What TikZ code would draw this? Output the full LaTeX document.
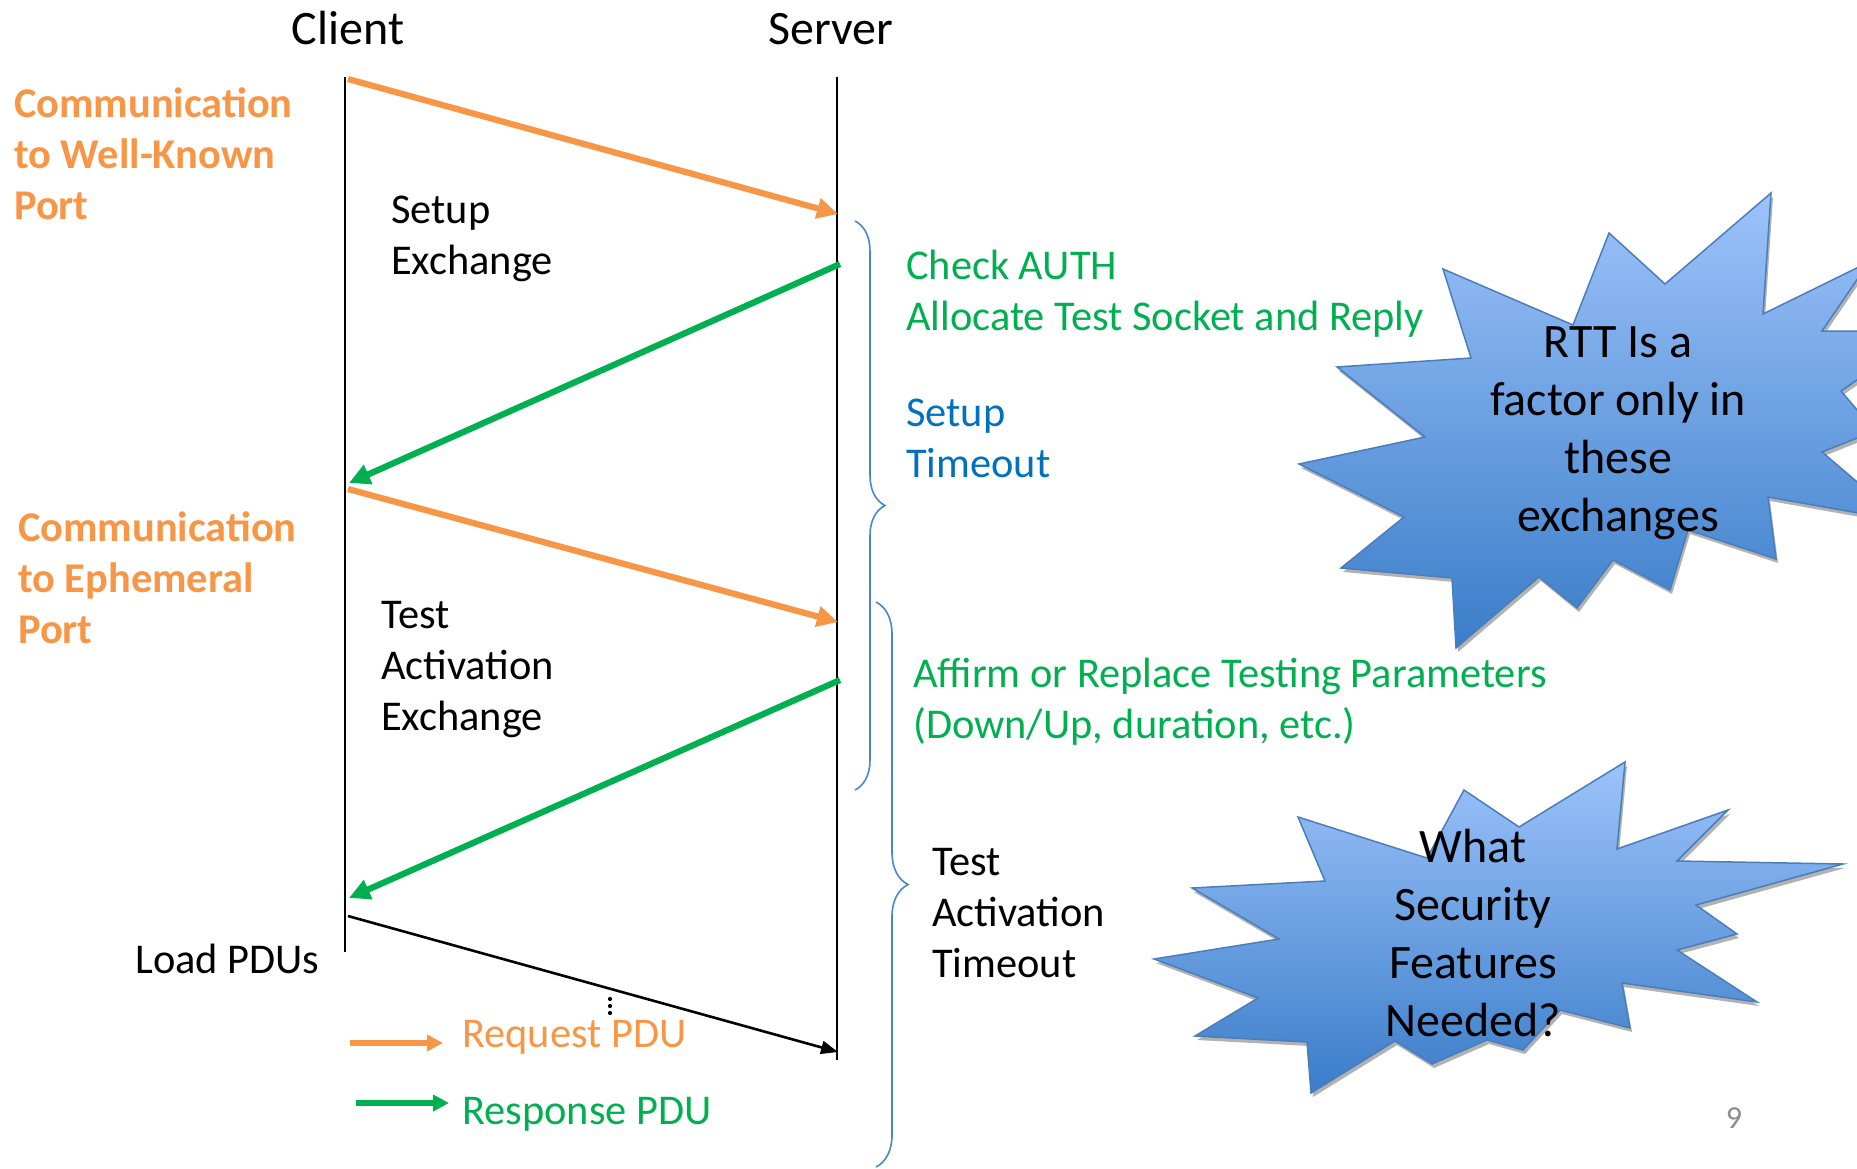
\documentclass[tikz,border=0pt]{standalone}
\usepackage{fontspec}
\setmainfont{Carlito}
\usetikzlibrary{arrows.meta,decorations.pathreplacing,shadows}

\definecolor{reqorange}{HTML}{F79646}
\definecolor{resgreen}{HTML}{00B050}
\definecolor{toblue}{HTML}{0070C0}
\definecolor{bracecol}{HTML}{4A86CF}
\definecolor{startop}{RGB}{157,195,250}
\definecolor{starbot}{RGB}{58,125,201}
\definecolor{staredge}{HTML}{4A7EBB}
\definecolor{pagegray}{HTML}{8C8C8C}

% zero-width struts fixing the top of the first line of a text block
\newcommand{\bodystrut}{\rule{0pt}{36pt}}
\newcommand{\burststrut}{\rule{0pt}{40pt}}

\begin{document}
\begin{tikzpicture}[x=1pt,y=-1pt,
  body/.style={inner sep=0pt, font=\fontsize{42.4}{51}\selectfont, align=left, anchor=north west},
  onel/.style={inner sep=0pt, font=\fontsize{42.4}{51}\selectfont, anchor=base west},
  head/.style={inner sep=0pt, font=\fontsize{48}{58}\selectfont, anchor=base},
  bursttext/.style={inner sep=0pt, font=\fontsize{48}{58}\selectfont, align=center, anchor=north},
  lifeline/.style={line width=2.5pt, black},
  req/.style={line width=6.2pt, reqorange, -{Triangle[length=21pt,width=20pt]}},
  res/.style={line width=6.2pt, resgreen, -{Triangle[length=21pt,width=20pt]}},
  load/.style={line width=2.6pt, black, -{Triangle[length=17pt,width=13pt]}},
  timer/.style={line width=1.6pt, bracecol, decorate},
  burst/.style={draw=staredge, line width=1.5pt, top color=startop, bottom color=starbot,
    drop shadow={shadow xshift=2pt, shadow yshift=-4pt, opacity=0.3, fill=black}},
]
\useasboundingbox (0,0) rectangle (1857,1169);

% ---- speech-burst callouts (cut at the page edge) ----
\begin{scope}
\clip (0,0) rectangle (1857,1169);
\path[burst] (1443,269) -- (1573,325) -- (1609,233) -- (1665,284) -- (1771,193)
  -- (1763,314) -- (1869,262) -- (1822,331) -- (1928,331) -- (1841,391)
  -- (1875,431) -- (1822,452) -- (1903,521) -- (1768,497) -- (1776,559)
  -- (1688,530) -- (1670,590) -- (1613,560) -- (1577,608) -- (1539,577)
  -- (1456,648) -- (1452,578) -- (1341,568) -- (1404,517) -- (1299,464)
  -- (1425,437) -- (1337,367) -- (1471,358) -- cycle;
\path[burst] (1298,817) -- (1427,858) -- (1464,790) -- (1519,827) -- (1625,762)
  -- (1617,849) -- (1728,810) -- (1677,861) -- (1843,864) -- (1696,905)
  -- (1737,934) -- (1677,950) -- (1757,1002) -- (1622,983) -- (1630,1028)
  -- (1560,1010) -- (1523,1050) -- (1487,1040) -- (1432,1064) -- (1395,1041)
  -- (1311,1093) -- (1307,1042) -- (1195,1036) -- (1258,998) -- (1154,959)
  -- (1279,939) -- (1192,888) -- (1325,881) -- cycle;
\end{scope}
\node[bursttext] (rtt) at (1618,317) {\burststrut RTT Is a\\factor only in\\these\\exchanges};
\node[bursttext] (secq) at (1473,822) {\burststrut What\\Security\\Features\\Needed?};

% ---- lifelines ----
\node[head] (client) at (348,45) {Client};
\node[head] (server) at (831,45) {Server};
\coordinate (ctop) at (345,77);
\coordinate (cbot) at (345,952);
\coordinate (stop) at (837,77);
\coordinate (sbot) at (837,1060);
\draw[lifeline] (ctop) -- (cbot);
\draw[lifeline] (stop) -- (sbot);

% ---- messages ----
\coordinate (m1a) at (348,79);   \coordinate (m1b) at (838,214);
\coordinate (m2a) at (840,264);  \coordinate (m2b) at (349,483);
\coordinate (m3a) at (348,489);  \coordinate (m3b) at (838,622);
\coordinate (m4a) at (840,680);  \coordinate (m4b) at (349,898);
\coordinate (m5a) at (348,916);  \coordinate (m5b) at (838,1052);
\draw[req] (m1a) -- (m1b);
\draw[res] (m2a) -- (m2b);
\draw[req] (m3a) -- (m3b);
\draw[res] (m4a) -- (m4b);
\draw[load] (m5a) -- (m5b);
\foreach \yy in {999,1006,1013} \fill (610,\yy) circle (2.1pt);

% ---- timers ----
\coordinate (b1t) at (855,221);  \coordinate (b1b) at (855,790);
\coordinate (b2t) at (876,602);  \coordinate (b2b) at (876,1167);
\draw[timer, decoration={brace, amplitude=30pt}] (b1t) -- (b1b);
\draw[timer, decoration={brace, amplitude=32pt}] (b2t) -- (b2b);

% ---- labels ----
\node[body, text=reqorange, font=\fontsize{42.4}{51}\selectfont\bfseries] (wk) at (14,81)
  {\bodystrut Communication\\to Well-Known\\Port};
\node[body, text=reqorange, font=\fontsize{42.4}{51}\selectfont\bfseries] (eph) at (18,505)
  {\bodystrut Communication\\to Ephemeral\\Port};
\node[body] (setupx) at (391,187) {\bodystrut Setup\\Exchange};
\node[body] (testx) at (381,592) {\bodystrut Test\\Activation\\Exchange};
\node[body, text=resgreen] (auth) at (906,243) {\bodystrut Check AUTH\\Allocate Test Socket and Reply};
\node[body, text=toblue] (setupto) at (906,390) {\bodystrut Setup\\Timeout};
\node[body, text=resgreen] (affirm) at (913,651) {\bodystrut Affirm or Replace Testing Parameters\\(Down/Up, duration, etc.)};
\node[body] (testto) at (932,839) {\bodystrut Test\\Activation\\Timeout};
\node[onel] (load) at (135,973) {Load PDUs};

% ---- legend ----
\coordinate (lq1) at (350,1043); \coordinate (lq2) at (443,1043);
\coordinate (lr1) at (356,1103); \coordinate (lr2) at (449,1103);
\draw[req, line width=5.2pt, -{Triangle[length=16pt,width=16pt]}] (lq1) -- (lq2);
\draw[res, line width=5.2pt, -{Triangle[length=16pt,width=16pt]}] (lr1) -- (lr2);
\node[onel, text=reqorange] (reqlbl) at (462,1047) {Request PDU};
\node[onel, text=resgreen] (reslbl) at (462,1124) {Response PDU};

\node[inner sep=0pt, anchor=base, font=\fontsize{32}{38}\selectfont, text=pagegray] (pg) at (1734,1128) {9};
\end{tikzpicture}
\end{document}
